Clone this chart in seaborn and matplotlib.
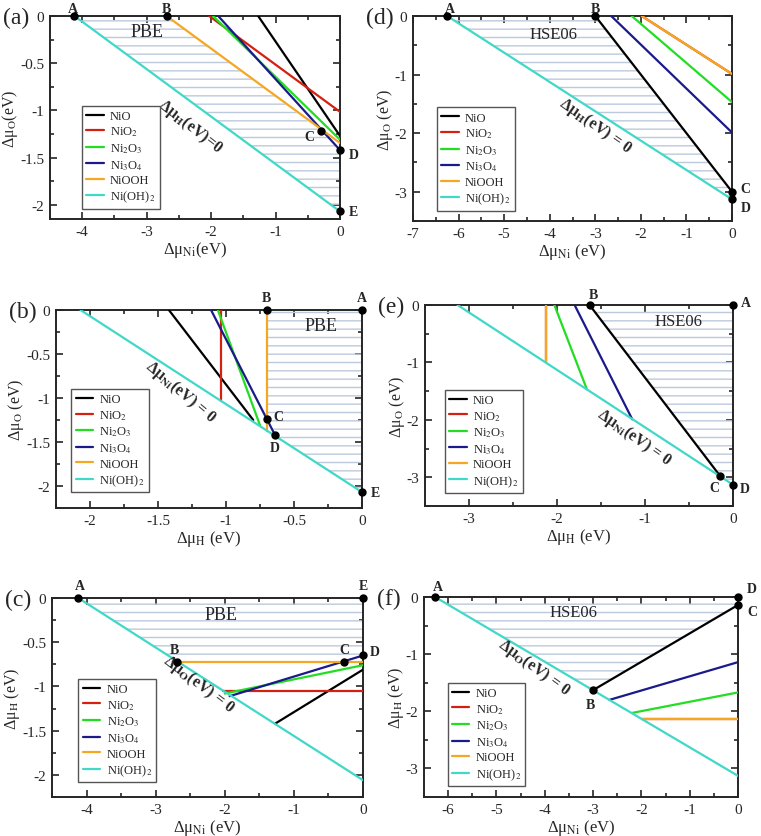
import numpy as np
import pandas as pd
import matplotlib
matplotlib.use("Agg")
import matplotlib.pyplot as plt
from matplotlib.lines import Line2D
from matplotlib.ticker import MultipleLocator, AutoMinorLocator, FuncFormatter
import seaborn as sns

sns.set_style("ticks")
plt.rcParams['font.family'] = ['Liberation Serif', 'DejaVu Serif']
plt.rcParams['mathtext.fontset'] = 'stix'
plt.rcParams['axes.unicode_minus'] = False
plt.rcParams['hatch.linewidth'] = 1.0
plt.rcParams['hatch.color'] = '#bccadb'

phases = ['NiO', 'NiO2', 'Ni2O3', 'Ni3O4', 'NiOOH', 'Ni(OH)2']
phase_labels = ['NiO', 'NiO$_2$', 'Ni$_2$O$_3$', 'Ni$_3$O$_4$', 'NiOOH', 'Ni(OH)$_2$']
phase_colors = ['#000000', '#d42010', '#22dd22', '#1a1a8a', '#f5a623', '#40d8c8']

# line end points per panel: x0, y0, x1, y1 in phase order
lines_a = [(-1.27, 0, 0, -1.27), (-2.03, 0, 0, -1.015), (-1.97, 0, 0, -1.31),
           (-1.89, 0, 0, -1.42), (-2.69, 0, 0, -1.345), (-4.12, 0, 0, -2.07)]
lines_b = [(-1.42, 0, -0.80, -1.25), (-1.04, 0, -1.04, -1.03), (-1.06, 0, -0.75, -1.31),
           (-1.11, 0, -0.64, -1.42), (-0.70, 0, -0.70, -1.37), (-2.07, 0, 0, -2.07)]
lines_c = [(-1.27, -1.42, 0, -0.81), (-2.02, -1.05, 0, -1.05), (-2.0, -1.08, 0, -0.76),
           (-1.93, -1.11, 0, -0.65), (-2.69, -0.72, 0, -0.72), (-4.12, 0, 0, -2.06)]
lines_d = [(-3.0, 0, 0, -3.0), (-1.98, 0, 0, -0.99), (-2.2, 0, 0, -1.47),
           (-2.65, 0, 0, -1.99), (-1.98, 0, 0, -0.99), (-6.25, 0, 0, -3.13)]
lines_e = [(-1.63, 0, -0.15, -2.97), (-2.13, 0, -2.13, -1.0), (-2.03, 0, -1.66, -1.47),
           (-1.80, 0, -1.145, -1.99), (-2.13, 0, -2.13, -1.0), (-3.13, 0, 0, -3.13)]
lines_f = [(-3.0, -1.63, 0, -0.14), (-1.99, -2.13, 0, -2.13), (-2.2, -2.03, 0, -1.67),
           (-2.66, -1.80, 0, -1.14), (-1.99, -2.13, 0, -2.13), (-6.27, 0, 0, -3.13)]

# labelled points (also the corners of the hatched region)
pts_a = [('A', -4.12, 0), ('B', -2.69, 0), ('C', -0.29, -1.22), ('D', 0, -1.42), ('E', 0, -2.07)]
pts_b = [('B', -0.70, 0), ('A', 0, 0), ('E', 0, -2.07), ('D', -0.64, -1.42), ('C', -0.70, -1.24)]
pts_c = [('A', -4.12, 0), ('E', 0, 0), ('D', 0, -0.65), ('C', -0.27, -0.72), ('B', -2.69, -0.72)]
pts_d = [('A', -6.25, 0), ('B', -3.0, 0), ('C', 0, -3.0), ('D', 0, -3.13)]
pts_e = [('B', -1.63, 0), ('A', 0, 0), ('D', 0, -3.13), ('C', -0.15, -2.97)]
pts_f = [('A', -6.27, 0), ('D', 0, 0), ('C', 0, -0.14), ('B', -3.0, -1.63)]

# label offsets (points) for each marker label
offs = {
    'a': {'A': (-1, 1, 'center', 'bottom'), 'B': (0, 1, 'center', 'bottom'), 'C': (-5, -4, 'right', 'center'),
          'D': (6, -3, 'left', 'center'), 'E': (6, 0, 'left', 'center')},
    'b': {'B': (0, 4, 'center', 'bottom'), 'A': (0, 4, 'center', 'bottom'), 'C': (5, 2, 'left', 'center'),
          'D': (0, -4, 'center', 'top'), 'E': (6, 0, 'left', 'center')},
    'c': {'A': (1, 4, 'center', 'bottom'), 'E': (0, 4, 'center', 'bottom'), 'B': (-2, 4, 'center', 'bottom'),
          'C': (0, 4, 'center', 'bottom'), 'D': (5, 3, 'left', 'center')},
    'd': {'A': (2, 1, 'center', 'bottom'), 'B': (0, 1, 'center', 'bottom'), 'C': (6, 2, 'left', 'center'),
          'D': (6, -6, 'left', 'center')},
    'e': {'B': (3, 3, 'center', 'bottom'), 'A': (6, 2, 'left', 'center'), 'C': (-4, -4, 'center', 'top'),
          'D': (5, -3, 'left', 'center')},
    'f': {'A': (2, 3, 'center', 'bottom'), 'D': (6, 6, 'left', 'center'), 'C': (7, -5, 'left', 'center'),
          'B': (-2, -6, 'center', 'top')},
}

panels = {
    'a': dict(lines=lines_a, pts=pts_a, method='PBE', meth_xy=(-3.0, -0.16),
              zero_txt=r'Δμ$_\mathbf{H}$(eV)=0', zero_xy=(-2.33, -1.16), rot=-38,
              xlim=(-4.5, 0), ylim=(-2.15, 0), xstep=1, ystep=0.5,
              xlabel=r'Δμ$_{\rm Ni}$(eV)', ylabel=r'Δμ$_{\rm O}$(eV)',
              box=(50, 17, 340, 220), leg=(0.11, 0.05)),
    'b': dict(lines=lines_b, pts=pts_b, method='PBE', meth_xy=(-0.30, -0.18),
              zero_txt=r'Δμ$_\mathbf{Ni}$(eV) = 0', zero_xy=(-1.33, -0.92), rot=-40,
              xlim=(-2.25, 0), ylim=(-2.25, 0), xstep=0.5, ystep=0.5,
              xlabel=r'Δμ$_{\rm H}$ (eV)', ylabel=r'Δμ$_{\rm O}$ (eV)',
              box=(56, 311, 362, 509), leg=(0.05, 0.08)),
    'c': dict(lines=lines_c, pts=pts_c, method='PBE', meth_xy=(-2.06, -0.19),
              zero_txt=r'Δμ$_\mathbf{O}$(eV) = 0', zero_xy=(-2.38, -0.97), rot=-37,
              xlim=(-4.5, 0), ylim=(-2.25, 0), xstep=1, ystep=0.5,
              xlabel=r'Δμ$_{\rm Ni}$ (eV)', ylabel=r'Δμ$_{\rm H}$ (eV)',
              box=(52, 599, 363, 798), leg=(0.085, 0.075)),
    'd': dict(lines=lines_d, pts=pts_d, method='HSE06', meth_xy=(-3.92, -0.30),
              zero_txt=r'Δμ$_\mathbf{H}$(eV) = 0', zero_xy=(-3.0, -1.87), rot=-35,
              xlim=(-7, 0), ylim=(-3.5, 0), xstep=1, ystep=1,
              xlabel=r'Δμ$_{\rm Ni}$ (eV)', ylabel=r'Δμ$_{\rm O}$ (eV)',
              box=(413, 17, 732, 222), leg=(0.075, 0.05)),
    'e': dict(lines=lines_e, pts=pts_e, method='HSE06', meth_xy=(-0.62, -0.28),
              zero_txt=r'Δμ$_\mathbf{Ni}$(eV) = 0', zero_xy=(-1.12, -2.30), rot=-35,
              xlim=(-3.5, 0), ylim=(-3.5, 0), xstep=1, ystep=1,
              xlabel=r'Δμ$_{\rm H}$ (eV)', ylabel=r'Δμ$_{\rm O}$ (eV)',
              box=(425, 306, 733, 507), leg=(0.065, 0.065)),
    'f': dict(lines=lines_f, pts=pts_f, method='HSE06', meth_xy=(-3.4, -0.27),
              zero_txt=r'Δμ$_\mathbf{O}$(eV) = 0', zero_xy=(-4.22, -1.22), rot=-36,
              xlim=(-6.5, 0), ylim=(-3.5, 0), xstep=1, ystep=1,
              xlabel=r'Δμ$_{\rm Ni}$ (eV)', ylabel=r'Δμ$_{\rm H}$ (eV)',
              box=(424, 598, 738, 798), leg=(0.075, 0.055)),
}

W, H = 761, 837
fig = plt.figure(figsize=(W / 100, H / 100), dpi=100)
fmt = FuncFormatter(lambda v, p: f"{v + 0:g}")

for key, p in panels.items():
    x0, y0, x1, y1 = p['box']
    ax = fig.add_axes([x0 / W, 1 - y1 / H, (x1 - x0) / W, (y1 - y0) / H])

    # hatched stable region
    poly = np.array([(x, y) for _, x, y in p['pts']])
    ax.fill(poly[:, 0], poly[:, 1], facecolor='none', edgecolor='#bccadb',
            hatch='--', linewidth=0, zorder=1)

    rows = []
    for ph, (ax0, ay0, ax1, ay1) in zip(phases, p['lines']):
        rows.append((ph, ax0, ay0))
        rows.append((ph, ax1, ay1))
    df = pd.DataFrame(rows, columns=['phase', 'x', 'y'])
    sns.lineplot(data=df, x='x', y='y', hue='phase', hue_order=phases,
                 palette=phase_colors, sort=False, estimator=None,
                 linewidth=1.6, legend=False, ax=ax, zorder=3)

    for lab, px, py in p['pts']:
        ax.plot(px, py, 'o', color='black', markersize=5, clip_on=False, zorder=5)
        dx, dy, ha, va = offs[key][lab]
        ax.annotate(lab, (px, py), xytext=(dx, dy), textcoords='offset points',
                    ha=ha, va=va, fontsize=10, fontweight='bold', annotation_clip=False)

    ax.text(*p['meth_xy'], p['method'], fontsize=13 if p['method'] == 'PBE' else 12,
            ha='center', va='center')
    ax.text(*p['zero_xy'], p['zero_txt'], fontsize=11.5, fontweight='bold',
            rotation=p['rot'], ha='center', va='center', rotation_mode='anchor')

    ax.set_xlim(p['xlim'])
    ax.set_ylim(p['ylim'])
    ax.xaxis.set_major_locator(MultipleLocator(p['xstep']))
    ax.yaxis.set_major_locator(MultipleLocator(p['ystep']))
    ax.xaxis.set_minor_locator(AutoMinorLocator(2))
    ax.yaxis.set_minor_locator(AutoMinorLocator(2))
    ax.xaxis.set_major_formatter(fmt)
    ax.yaxis.set_major_formatter(fmt)
    ax.tick_params(which='both', direction='in', top=True, right=True, labelsize=11,
                   width=1.2, pad=4)
    ax.tick_params(which='major', length=5)
    ax.tick_params(which='minor', length=3)
    for s in ax.spines.values():
        s.set_linewidth(1.4)
    ax.set_xlabel(p['xlabel'], fontsize=12, labelpad=1)
    ax.set_ylabel(p['ylabel'], fontsize=11.5, labelpad=0)

    handles = [Line2D([], [], color=c, lw=1.6) for c in phase_colors]
    leg = ax.legend(handles, phase_labels, loc='lower left', bbox_to_anchor=p['leg'],
                    fontsize=9, frameon=True, fancybox=False, framealpha=1,
                    edgecolor='#555555', handlelength=1.4, handletextpad=0.5,
                    labelspacing=0.22, borderpad=0.35, borderaxespad=0)
    leg.get_frame().set_linewidth(1.0)

    fig.text((x0 - 47) / W, 1 - (y0 + 1) / H, f'({key})', fontsize=17, ha='left', va='center')

fig.savefig('out.png', dpi=100)
